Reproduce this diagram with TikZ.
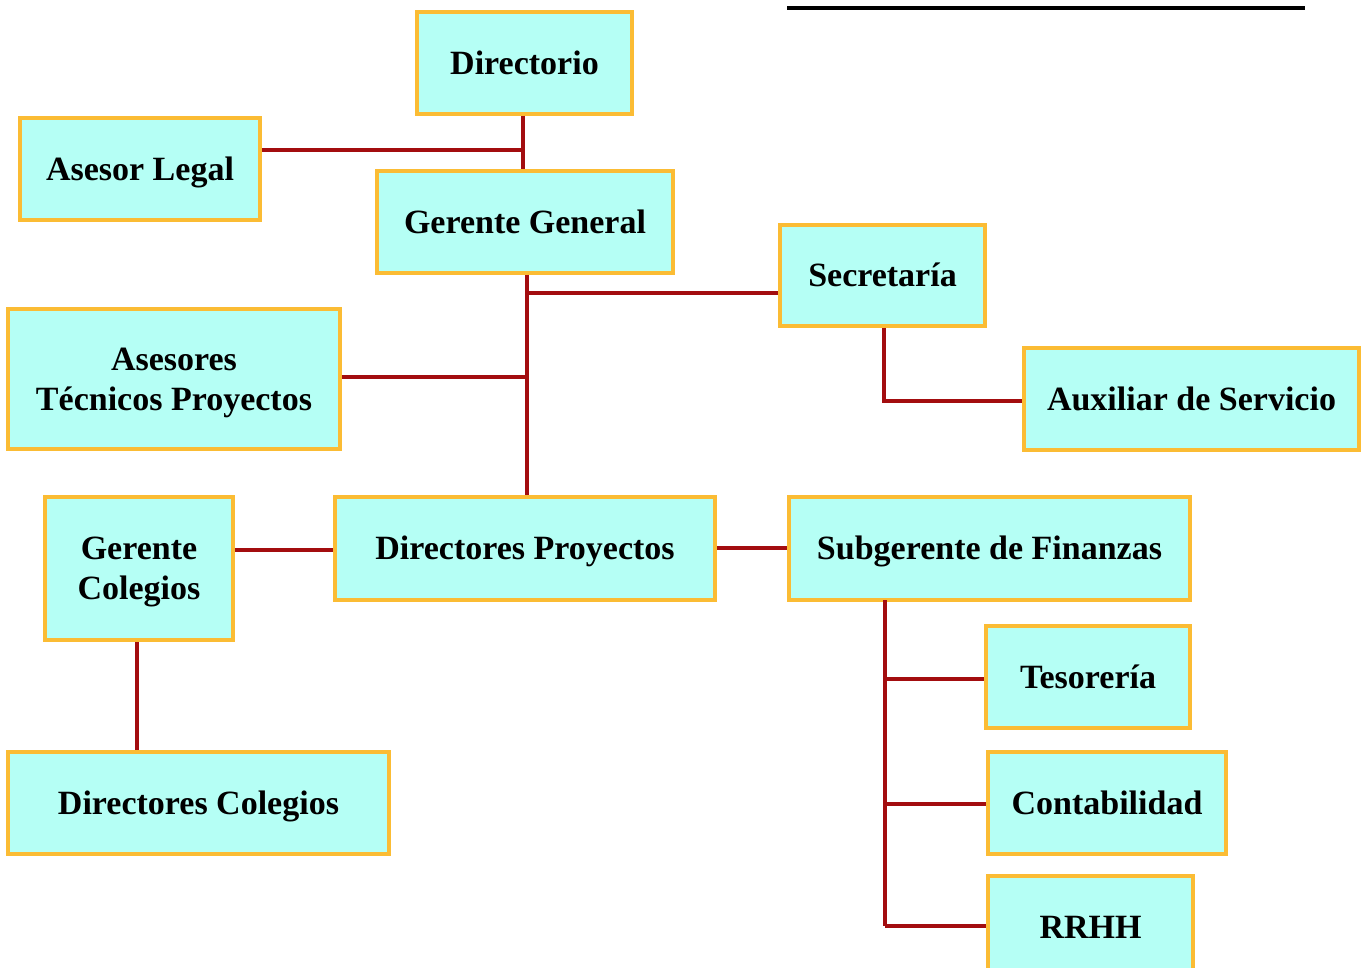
\documentclass[tikz,border=0pt]{standalone}
\usepackage{fontspec}
\setmainfont{Liberation Serif}
\definecolor{boxfill}{HTML}{B5FFF5}
\definecolor{boxdraw}{HTML}{FBBC34}
\definecolor{conn}{HTML}{A30D0F}
\tikzset{
  orgbox/.style={draw=boxdraw, fill=boxfill, line width=3.5pt, inner sep=0pt,
    font=\fontsize{34}{40}\selectfont\bfseries, align=center, text=black,
    text height=22.5pt, text depth=0pt},
  twoline/.style={text height=62.5pt},
  link/.style={draw=conn, line width=3.5pt}
}
\begin{document}
\begin{tikzpicture}[x=1pt,y=-1pt]
\clip (0,0) rectangle (1365,968);
\useasboundingbox (0,0) rectangle (1365,968);
% top rule
\coordinate (r1) at (787,8);
\coordinate (r2) at (1305,8);
\draw[line width=4pt] (r1) -- (r2);
% boxes
\node[orgbox, minimum width=215, minimum height=102] (dir) at (524.5,63) {Directorio};
\node[orgbox, minimum width=240, minimum height=102] (al) at (140,169) {Asesor Legal};
\node[orgbox, minimum width=296, minimum height=102] (gg) at (525,222) {Gerente General};
\node[orgbox, minimum width=205, minimum height=101] (sec) at (882.5,275.5) {Secretaría};
\node[orgbox, minimum width=335, minimum height=102] (aux) at (1191.5,399) {Auxiliar de Servicio};
\node[orgbox, twoline, minimum width=332, minimum height=140] (atp) at (174,379) {Asesores\\Técnicos Proyectos};
\node[orgbox, twoline, minimum width=188, minimum height=143] (gc) at (139,568.5) {Gerente\\Colegios};
\node[orgbox, minimum width=380, minimum height=103] (dp) at (525,548.5) {Directores Proyectos};
\node[orgbox, minimum width=401, minimum height=103] (sf) at (989.5,548.5) {Subgerente de Finanzas};
\node[orgbox, minimum width=204, minimum height=102] (tes) at (1088,677) {Tesorería};
\node[orgbox, minimum width=238, minimum height=102] (con) at (1107,803) {Contabilidad};
\node[orgbox, minimum width=205, minimum height=102] (rr) at (1090.5,927) {RRHH};
\node[orgbox, minimum width=381, minimum height=102] (dc) at (198.5,803) {Directores Colegios};
% junction coordinates
\coordinate (jal) at (523,150);
\coordinate (jsec) at (527,293);
\coordinate (jatp) at (527,377);
\coordinate (jaux) at (884,401);
\coordinate (jsf) at (885,600);
\coordinate (jtes) at (885,679);
\coordinate (jcon) at (885,804);
\coordinate (jrr) at (885,926);
% connectors
\draw[link] (dir.south -| jal) -- (gg.north -| jal);
\draw[link] (al.east |- jal) -- (jal);
\draw[link] (gg.south -| jsec) -- (dp.north -| jsec);
\draw[link] (sec.west |- jsec) -- (jsec);
\draw[link] (atp.east |- jatp) -- (jatp);
\draw[link] (sec.south -| jaux) -- (jaux) -- (aux.west |- jaux);
\draw[link] (gc.east |- 0,550) -- (dp.west |- 0,550);
\draw[link] (dp.east |- 0,548) -- (sf.west |- 0,548);
\draw[link] (gc.south -| 137,0) -- (dc.north -| 137,0);
\draw[link] (jsf) -- (jrr);
\draw[link] (jtes) -- (tes.west |- jtes);
\draw[link] (jcon) -- (con.west |- jcon);
\draw[link] (jrr) -- (rr.west |- jrr);
\end{tikzpicture}
\end{document}
